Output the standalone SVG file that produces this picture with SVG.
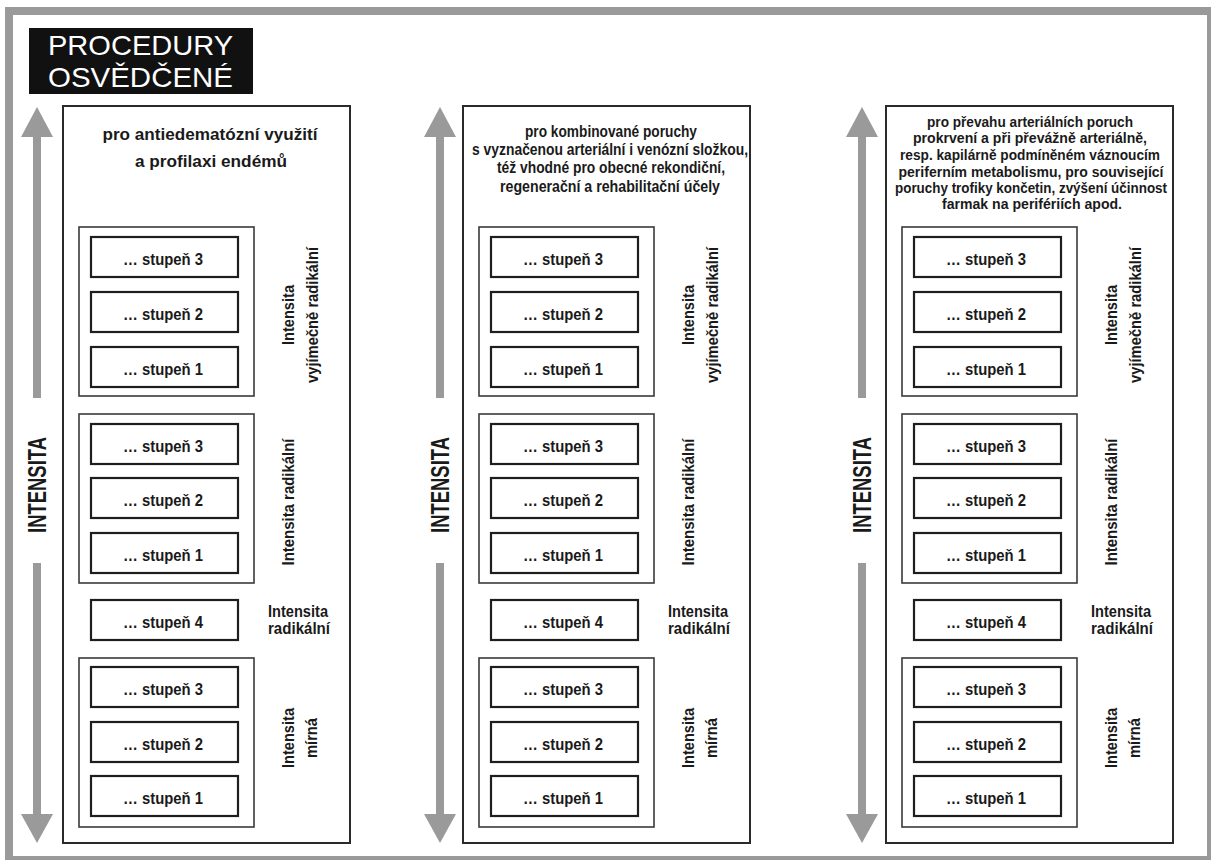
<svg xmlns="http://www.w3.org/2000/svg" width="1211" height="860" viewBox="0 0 1211 860">
  <style>
    .frame { fill: #ffffff; stroke: #9a9a9a; stroke-width: 8; }
    .panel { fill: #ffffff; stroke: #2a2a2a; stroke-width: 2; }
    .grp { fill: none; stroke: #3a3a3a; stroke-width: 1.6; }
    .step { fill: #ffffff; stroke: #1e1e1e; stroke-width: 2.2; }
    .t { font-family: "Liberation Sans", Arial, sans-serif; font-weight: bold; fill: #1a1a1a; }
    .title { font-size: 17px; text-anchor: middle; }
    .title-sm { font-size: 15px; text-anchor: middle; }
    .stp { font-size: 16px; text-anchor: middle; }
    .lbl { font-size: 16px; text-anchor: middle; }
    .axis-t { font-size: 25px; text-anchor: middle; }
    .axis { fill: #9a9a9a; }
    .head-t { font-family: "Liberation Sans", Arial, sans-serif; font-size: 28px; fill: #ffffff; }
  </style>

  <!-- outer frame -->
  <rect class="frame" x="9" y="11" width="1202" height="849"/>

  <!-- heading -->
  <g id="heading">
    <rect x="29" y="28" width="224" height="66" fill="#111111"/>
    <text class="head-t" x="48" y="55" textLength="185" lengthAdjust="spacingAndGlyphs">PROCEDURY</text>
    <text class="head-t" x="48" y="87" textLength="185" lengthAdjust="spacingAndGlyphs">OSVĚDČENÉ</text>
  </g>

  <!-- intensity axes: grey double arrows with label -->
  <g id="axes">
    <g id="axis-1">
      <polygon class="axis" points="37,107 53,137 21,137"/>
      <rect class="axis" x="33" y="137" width="8" height="261"/>
      <rect class="axis" x="33" y="563" width="8" height="251"/>
      <polygon class="axis" points="21,814 53,814 37,843"/>
      <text class="t axis-t" transform="translate(45.5,485) rotate(-90)" textLength="96" lengthAdjust="spacingAndGlyphs">INTENSITA</text>
    </g>
    <g id="axis-2">
      <polygon class="axis" points="440,107 456,137 424,137"/>
      <rect class="axis" x="436" y="137" width="8" height="261"/>
      <rect class="axis" x="436" y="563" width="8" height="251"/>
      <polygon class="axis" points="424,814 456,814 440,843"/>
      <text class="t axis-t" transform="translate(448.5,485) rotate(-90)" textLength="96" lengthAdjust="spacingAndGlyphs">INTENSITA</text>
    </g>
    <g id="axis-3">
      <polygon class="axis" points="862,107 878,137 846,137"/>
      <rect class="axis" x="858" y="137" width="8" height="261"/>
      <rect class="axis" x="858" y="563" width="8" height="251"/>
      <polygon class="axis" points="846,814 878,814 862,843"/>
      <text class="t axis-t" transform="translate(870.5,485) rotate(-90)" textLength="96" lengthAdjust="spacingAndGlyphs">INTENSITA</text>
    </g>
  </g>

  <!-- panel 1 -->
  <g id="panel-1">
    <rect class="panel" x="63" y="106" width="287" height="737"/>
    <g id="p1-title">
      <text class="t title" x="210" y="140" textLength="215" lengthAdjust="spacingAndGlyphs">pro antiedematózní využití</text>
      <text class="t title" x="211" y="167" textLength="152" lengthAdjust="spacingAndGlyphs">a profilaxi endémů</text>
    </g>
    <g id="p1-exceptional">
      <rect class="grp" x="79" y="227" width="175" height="169"/>
      <g id="p1-ex-3"><rect class="step" x="91" y="237" width="147" height="40"/><text class="t stp" x="163" y="265" textLength="80" lengthAdjust="spacingAndGlyphs">… stupeň 3</text></g>
      <g id="p1-ex-2"><rect class="step" x="91" y="292" width="147" height="40"/><text class="t stp" x="163" y="320" textLength="80" lengthAdjust="spacingAndGlyphs">… stupeň 2</text></g>
      <g id="p1-ex-1"><rect class="step" x="91" y="347" width="147" height="40"/><text class="t stp" x="163" y="375" textLength="80" lengthAdjust="spacingAndGlyphs">… stupeň 1</text></g>
      <text class="t lbl" transform="translate(294,315) rotate(-90)" textLength="60" lengthAdjust="spacingAndGlyphs">Intensita</text>
      <text class="t lbl" transform="translate(318,315) rotate(-90)" textLength="136" lengthAdjust="spacingAndGlyphs">vyjímečně radikální</text>
    </g>
    <g id="p1-radical">
      <rect class="grp" x="79" y="414" width="175" height="169"/>
      <g id="p1-ra-3"><rect class="step" x="91" y="424" width="147" height="40"/><text class="t stp" x="163" y="452" textLength="80" lengthAdjust="spacingAndGlyphs">… stupeň 3</text></g>
      <g id="p1-ra-2"><rect class="step" x="91" y="478" width="147" height="40"/><text class="t stp" x="163" y="506" textLength="80" lengthAdjust="spacingAndGlyphs">… stupeň 2</text></g>
      <g id="p1-ra-1"><rect class="step" x="91" y="533" width="147" height="40"/><text class="t stp" x="163" y="561" textLength="80" lengthAdjust="spacingAndGlyphs">… stupeň 1</text></g>
      <text class="t lbl" transform="translate(294,502) rotate(-90)" textLength="127" lengthAdjust="spacingAndGlyphs">Intensita radikální</text>
    </g>
    <g id="p1-step4">
      <rect class="step" x="91" y="600" width="147" height="40"/>
      <text class="t stp" x="163" y="628" textLength="80" lengthAdjust="spacingAndGlyphs">… stupeň 4</text>
      <text class="t lbl" x="298" y="617" textLength="60" lengthAdjust="spacingAndGlyphs">Intensita</text>
      <text class="t lbl" x="299" y="634" textLength="62" lengthAdjust="spacingAndGlyphs">radikální</text>
    </g>
    <g id="p1-mild">
      <rect class="grp" x="79" y="658" width="175" height="169"/>
      <g id="p1-mi-3"><rect class="step" x="91" y="667" width="147" height="40"/><text class="t stp" x="163" y="695" textLength="80" lengthAdjust="spacingAndGlyphs">… stupeň 3</text></g>
      <g id="p1-mi-2"><rect class="step" x="91" y="722" width="147" height="40"/><text class="t stp" x="163" y="750" textLength="80" lengthAdjust="spacingAndGlyphs">… stupeň 2</text></g>
      <g id="p1-mi-1"><rect class="step" x="91" y="776" width="147" height="40"/><text class="t stp" x="163" y="804" textLength="80" lengthAdjust="spacingAndGlyphs">… stupeň 1</text></g>
      <text class="t lbl" transform="translate(294,738) rotate(-90)" textLength="60" lengthAdjust="spacingAndGlyphs">Intensita</text>
      <text class="t lbl" transform="translate(317,738) rotate(-90)" textLength="40" lengthAdjust="spacingAndGlyphs">mírná</text>
    </g>
  </g>

  <!-- panel 2 -->
  <g id="panel-2" transform="translate(400,0)">
    <rect class="panel" x="63" y="106" width="287" height="737"/>
    <g id="p2-title">
      <text class="t title" x="211" y="137" textLength="172" lengthAdjust="spacingAndGlyphs">pro kombinované poruchy</text>
      <text class="t title" x="210" y="155" textLength="276" lengthAdjust="spacingAndGlyphs">s vyznačenou arteriální i venózní složkou,</text>
      <text class="t title" x="211" y="173" textLength="228" lengthAdjust="spacingAndGlyphs">též vhodné pro obecné rekondiční,</text>
      <text class="t title" x="210" y="192" textLength="220" lengthAdjust="spacingAndGlyphs">regenerační a rehabilitační účely</text>
    </g>
    <g id="p2-exceptional">
      <rect class="grp" x="79" y="227" width="175" height="169"/>
      <g id="p2-ex-3"><rect class="step" x="91" y="237" width="147" height="40"/><text class="t stp" x="163" y="265" textLength="80" lengthAdjust="spacingAndGlyphs">… stupeň 3</text></g>
      <g id="p2-ex-2"><rect class="step" x="91" y="292" width="147" height="40"/><text class="t stp" x="163" y="320" textLength="80" lengthAdjust="spacingAndGlyphs">… stupeň 2</text></g>
      <g id="p2-ex-1"><rect class="step" x="91" y="347" width="147" height="40"/><text class="t stp" x="163" y="375" textLength="80" lengthAdjust="spacingAndGlyphs">… stupeň 1</text></g>
      <text class="t lbl" transform="translate(294,315) rotate(-90)" textLength="60" lengthAdjust="spacingAndGlyphs">Intensita</text>
      <text class="t lbl" transform="translate(318,315) rotate(-90)" textLength="136" lengthAdjust="spacingAndGlyphs">vyjímečně radikální</text>
    </g>
    <g id="p2-radical">
      <rect class="grp" x="79" y="414" width="175" height="169"/>
      <g id="p2-ra-3"><rect class="step" x="91" y="424" width="147" height="40"/><text class="t stp" x="163" y="452" textLength="80" lengthAdjust="spacingAndGlyphs">… stupeň 3</text></g>
      <g id="p2-ra-2"><rect class="step" x="91" y="478" width="147" height="40"/><text class="t stp" x="163" y="506" textLength="80" lengthAdjust="spacingAndGlyphs">… stupeň 2</text></g>
      <g id="p2-ra-1"><rect class="step" x="91" y="533" width="147" height="40"/><text class="t stp" x="163" y="561" textLength="80" lengthAdjust="spacingAndGlyphs">… stupeň 1</text></g>
      <text class="t lbl" transform="translate(294,502) rotate(-90)" textLength="127" lengthAdjust="spacingAndGlyphs">Intensita radikální</text>
    </g>
    <g id="p2-step4">
      <rect class="step" x="91" y="600" width="147" height="40"/>
      <text class="t stp" x="163" y="628" textLength="80" lengthAdjust="spacingAndGlyphs">… stupeň 4</text>
      <text class="t lbl" x="298" y="617" textLength="60" lengthAdjust="spacingAndGlyphs">Intensita</text>
      <text class="t lbl" x="299" y="634" textLength="62" lengthAdjust="spacingAndGlyphs">radikální</text>
    </g>
    <g id="p2-mild">
      <rect class="grp" x="79" y="658" width="175" height="169"/>
      <g id="p2-mi-3"><rect class="step" x="91" y="667" width="147" height="40"/><text class="t stp" x="163" y="695" textLength="80" lengthAdjust="spacingAndGlyphs">… stupeň 3</text></g>
      <g id="p2-mi-2"><rect class="step" x="91" y="722" width="147" height="40"/><text class="t stp" x="163" y="750" textLength="80" lengthAdjust="spacingAndGlyphs">… stupeň 2</text></g>
      <g id="p2-mi-1"><rect class="step" x="91" y="776" width="147" height="40"/><text class="t stp" x="163" y="804" textLength="80" lengthAdjust="spacingAndGlyphs">… stupeň 1</text></g>
      <text class="t lbl" transform="translate(294,738) rotate(-90)" textLength="60" lengthAdjust="spacingAndGlyphs">Intensita</text>
      <text class="t lbl" transform="translate(317,738) rotate(-90)" textLength="40" lengthAdjust="spacingAndGlyphs">mírná</text>
    </g>
  </g>

  <!-- panel 3 -->
  <g id="panel-3" transform="translate(823,0)">
    <rect class="panel" x="63" y="106" width="287" height="737"/>
    <g id="p3-title">
      <text class="t title-sm" x="207" y="127" textLength="206" lengthAdjust="spacingAndGlyphs">pro převahu arteriálních poruch</text>
      <text class="t title-sm" x="207" y="143" textLength="234" lengthAdjust="spacingAndGlyphs">prokrvení a při převážně arteriálně,</text>
      <text class="t title-sm" x="207" y="160" textLength="260" lengthAdjust="spacingAndGlyphs">resp. kapilárně podmíněném váznoucím</text>
      <text class="t title-sm" x="208" y="177" textLength="265" lengthAdjust="spacingAndGlyphs">periferním metabolismu, pro související</text>
      <text class="t title-sm" x="208" y="193" textLength="272" lengthAdjust="spacingAndGlyphs">poruchy trofiky končetin, zvýšení účinnost</text>
      <text class="t title-sm" x="209" y="209" textLength="180" lengthAdjust="spacingAndGlyphs">farmak na perifériích apod.</text>
    </g>
    <g id="p3-exceptional">
      <rect class="grp" x="79" y="227" width="175" height="169"/>
      <g id="p3-ex-3"><rect class="step" x="91" y="237" width="147" height="40"/><text class="t stp" x="163" y="265" textLength="80" lengthAdjust="spacingAndGlyphs">… stupeň 3</text></g>
      <g id="p3-ex-2"><rect class="step" x="91" y="292" width="147" height="40"/><text class="t stp" x="163" y="320" textLength="80" lengthAdjust="spacingAndGlyphs">… stupeň 2</text></g>
      <g id="p3-ex-1"><rect class="step" x="91" y="347" width="147" height="40"/><text class="t stp" x="163" y="375" textLength="80" lengthAdjust="spacingAndGlyphs">… stupeň 1</text></g>
      <text class="t lbl" transform="translate(294,315) rotate(-90)" textLength="60" lengthAdjust="spacingAndGlyphs">Intensita</text>
      <text class="t lbl" transform="translate(318,315) rotate(-90)" textLength="136" lengthAdjust="spacingAndGlyphs">vyjímečně radikální</text>
    </g>
    <g id="p3-radical">
      <rect class="grp" x="79" y="414" width="175" height="169"/>
      <g id="p3-ra-3"><rect class="step" x="91" y="424" width="147" height="40"/><text class="t stp" x="163" y="452" textLength="80" lengthAdjust="spacingAndGlyphs">… stupeň 3</text></g>
      <g id="p3-ra-2"><rect class="step" x="91" y="478" width="147" height="40"/><text class="t stp" x="163" y="506" textLength="80" lengthAdjust="spacingAndGlyphs">… stupeň 2</text></g>
      <g id="p3-ra-1"><rect class="step" x="91" y="533" width="147" height="40"/><text class="t stp" x="163" y="561" textLength="80" lengthAdjust="spacingAndGlyphs">… stupeň 1</text></g>
      <text class="t lbl" transform="translate(294,502) rotate(-90)" textLength="127" lengthAdjust="spacingAndGlyphs">Intensita radikální</text>
    </g>
    <g id="p3-step4">
      <rect class="step" x="91" y="600" width="147" height="40"/>
      <text class="t stp" x="163" y="628" textLength="80" lengthAdjust="spacingAndGlyphs">… stupeň 4</text>
      <text class="t lbl" x="298" y="617" textLength="60" lengthAdjust="spacingAndGlyphs">Intensita</text>
      <text class="t lbl" x="299" y="634" textLength="62" lengthAdjust="spacingAndGlyphs">radikální</text>
    </g>
    <g id="p3-mild">
      <rect class="grp" x="79" y="658" width="175" height="169"/>
      <g id="p3-mi-3"><rect class="step" x="91" y="667" width="147" height="40"/><text class="t stp" x="163" y="695" textLength="80" lengthAdjust="spacingAndGlyphs">… stupeň 3</text></g>
      <g id="p3-mi-2"><rect class="step" x="91" y="722" width="147" height="40"/><text class="t stp" x="163" y="750" textLength="80" lengthAdjust="spacingAndGlyphs">… stupeň 2</text></g>
      <g id="p3-mi-1"><rect class="step" x="91" y="776" width="147" height="40"/><text class="t stp" x="163" y="804" textLength="80" lengthAdjust="spacingAndGlyphs">… stupeň 1</text></g>
      <text class="t lbl" transform="translate(294,738) rotate(-90)" textLength="60" lengthAdjust="spacingAndGlyphs">Intensita</text>
      <text class="t lbl" transform="translate(317,738) rotate(-90)" textLength="40" lengthAdjust="spacingAndGlyphs">mírná</text>
    </g>
  </g>
</svg>
